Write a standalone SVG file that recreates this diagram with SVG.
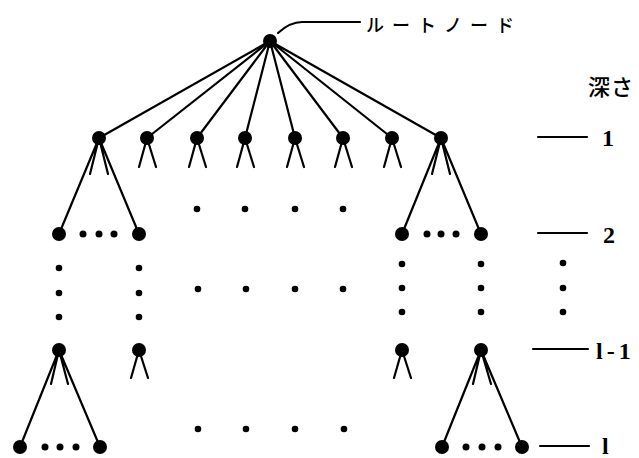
<svg xmlns="http://www.w3.org/2000/svg" width="639" height="458" viewBox="0 0 639 458">
<style>
.e{stroke:#000;stroke-width:2.2;fill:none;stroke-linecap:round}
.n{fill:#000}
.t{font-family:"Liberation Serif","Noto Sans CJK JP",serif;font-size:24px;font-weight:bold;fill:#000}
.j{font-family:"Noto Sans CJK JP",sans-serif;font-weight:500;fill:#000}
</style>
<rect width="639" height="458" fill="#fff"/>
<g id="connectors" class="e">
<path d="M270 41L99 138M270 41L147 138M270 41L197 138M270 41L245 138M270 41L295 138M270 41L343 138M270 41L392 138M270 41L441 138"/>
<path d="M147 138L139 167M147 138L156 167M197 138L189 167M197 138L206 167M245 138L237 167M245 138L254 167M295 138L287 167M295 138L304 167M343 138L335 167M343 138L352 167M392 138L384 167M392 138L401 167"/>
<path d="M99 138L59 234M99 138L139 234M99 138L90 174M99 138L108 174"/>
<path d="M441 138L402 234M441 138L481 234M441 138L432 174M441 138L450 174"/>
<path d="M139 350L131 378M139 350L148 378M402 350L394 378M402 350L411 378"/>
<path d="M59 350L20 447M59 350L100 447M59 350L51 384M59 350L68 384"/>
<path d="M481 350L442 447M481 350L522 447M481 350L473 384M481 350L491 384"/>
<path d="M278 33Q290 22 302 22L360 22"/>
<path d="M538 137H587M538 233H587M533 349H588M540 446H589"/>
</g>
<g id="root"><circle class="n" cx="270" cy="41" r="7"/></g>
<g id="d1">
<circle class="n" cx="99" cy="138" r="7"/><circle class="n" cx="147" cy="138" r="7"/><circle class="n" cx="197" cy="138" r="7"/><circle class="n" cx="245" cy="138" r="7"/><circle class="n" cx="295" cy="138" r="7"/><circle class="n" cx="343" cy="138" r="7"/><circle class="n" cx="392" cy="138" r="7"/><circle class="n" cx="441" cy="138" r="7"/>
</g>
<g id="d2">
<circle class="n" cx="59" cy="234" r="7"/><circle class="n" cx="139" cy="234" r="7"/><circle class="n" cx="402" cy="234" r="7"/><circle class="n" cx="481" cy="234" r="7"/>
</g>
<g id="dl1">
<circle class="n" cx="59" cy="350" r="7"/><circle class="n" cx="139" cy="350" r="7"/><circle class="n" cx="402" cy="350" r="7"/><circle class="n" cx="481" cy="350" r="7"/>
</g>
<g id="dl">
<circle class="n" cx="20" cy="447" r="7"/><circle class="n" cx="100" cy="447" r="7"/><circle class="n" cx="442" cy="447" r="7"/><circle class="n" cx="522" cy="447" r="7"/>
</g>
<g id="dots" class="n">
<circle cx="83" cy="234" r="3.5"/><circle cx="99" cy="234" r="3.5"/><circle cx="114" cy="234" r="3.5"/>
<circle cx="427" cy="234" r="3.5"/><circle cx="441" cy="234" r="3.5"/><circle cx="456" cy="234" r="3.5"/>
<circle cx="45" cy="447" r="3.5"/><circle cx="60" cy="447" r="3.5"/><circle cx="76" cy="447" r="3.5"/>
<circle cx="466" cy="447" r="3.5"/><circle cx="482" cy="447" r="3.5"/><circle cx="498" cy="447" r="3.5"/>
<circle cx="197" cy="209" r="3.3"/><circle cx="245" cy="209" r="3.3"/><circle cx="295" cy="209" r="3.3"/><circle cx="343" cy="209" r="3.3"/>
<circle cx="198" cy="289" r="3.3"/><circle cx="246" cy="289" r="3.3"/><circle cx="295" cy="289" r="3.3"/><circle cx="343" cy="289" r="3.3"/>
<circle cx="198" cy="429" r="3.3"/><circle cx="246" cy="429" r="3.3"/><circle cx="295" cy="429" r="3.3"/><circle cx="344" cy="429" r="3.3"/>
<circle cx="59" cy="268" r="3.3"/><circle cx="59" cy="293" r="3.3"/><circle cx="59" cy="317" r="3.3"/>
<circle cx="139" cy="268" r="3.3"/><circle cx="139" cy="293" r="3.3"/><circle cx="139" cy="317" r="3.3"/>
<circle cx="402" cy="264" r="3.3"/><circle cx="402" cy="288" r="3.3"/><circle cx="402" cy="312" r="3.3"/>
<circle cx="481" cy="264" r="3.3"/><circle cx="481" cy="288" r="3.3"/><circle cx="481" cy="312" r="3.3"/>
<circle cx="563" cy="263" r="3.3"/><circle cx="563" cy="288" r="3.3"/><circle cx="563" cy="312" r="3.3"/>
</g>
<g id="labels">
<text class="j" x="366" y="32" font-size="18" letter-spacing="8">ルートノード</text>
<text class="j" x="588" y="95" font-size="22" letter-spacing="1">深さ</text>
<text class="t" x="602" y="146">1</text>
<text class="t" x="603" y="243">2</text>
<text class="t" x="596" y="359" letter-spacing="4">l-1</text>
<text class="t" x="602" y="454">l</text>
</g>
</svg>
